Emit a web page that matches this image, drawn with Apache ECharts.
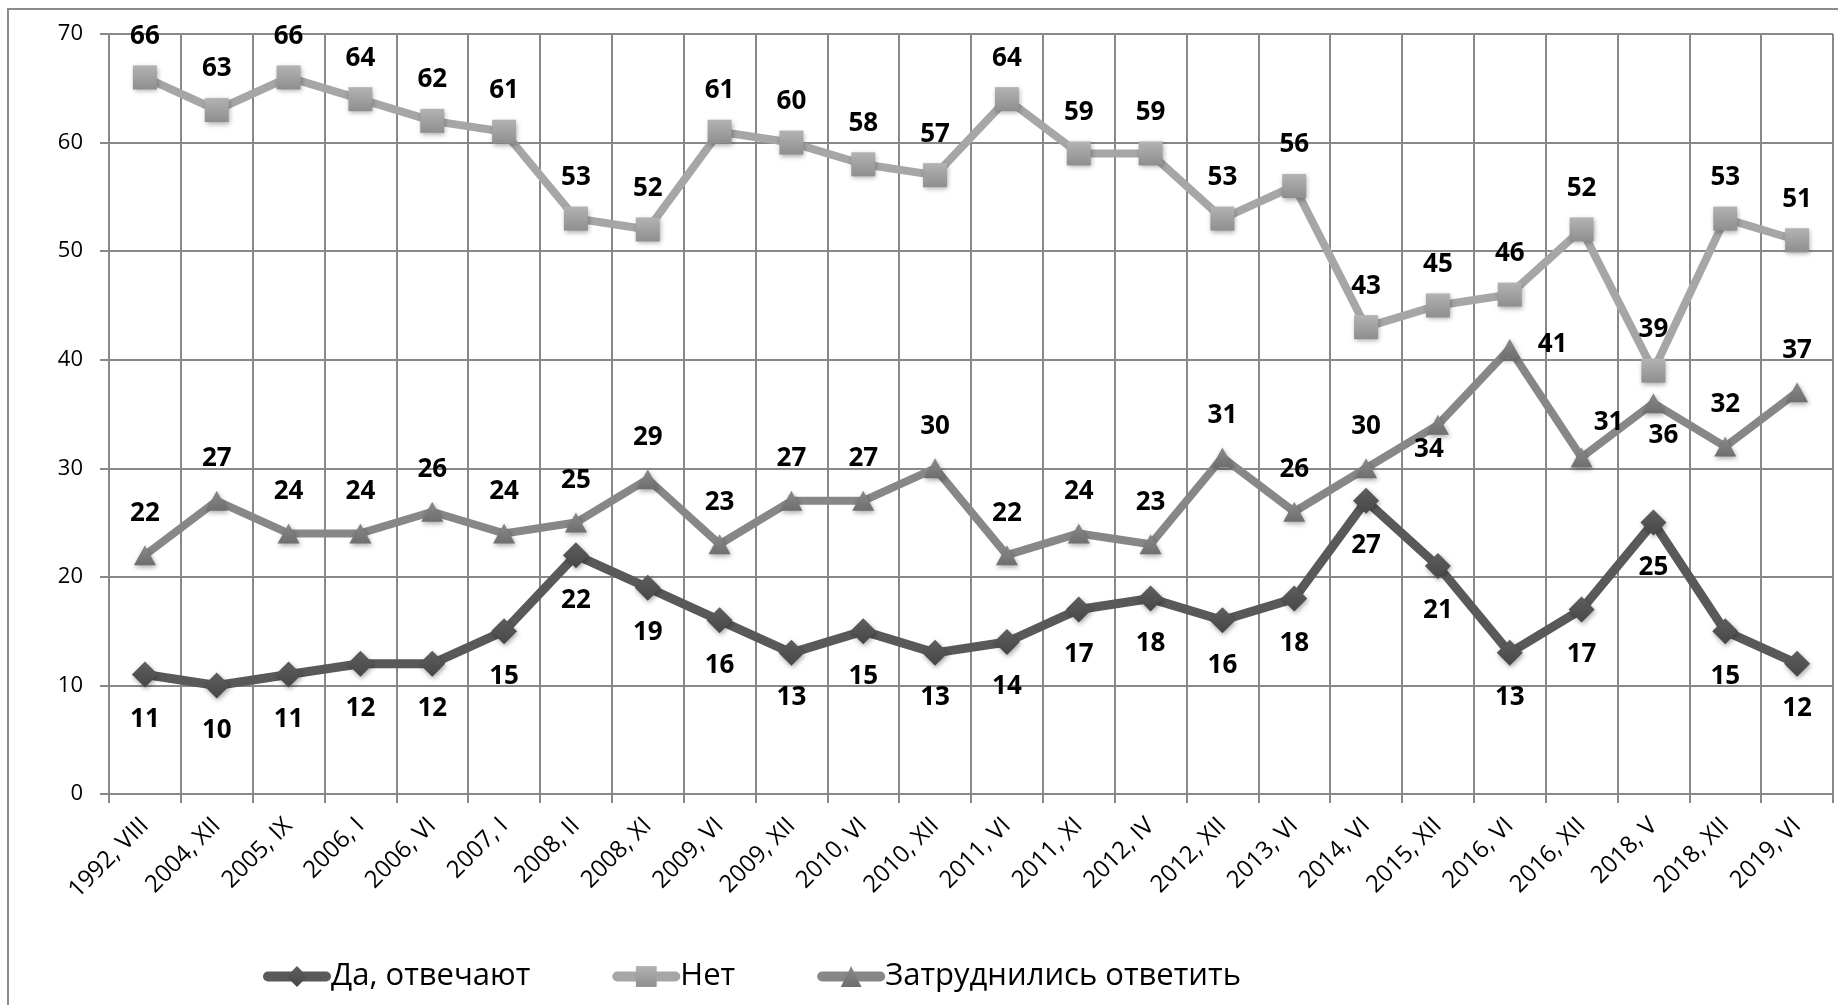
<!DOCTYPE html>
<html>
<head>
<meta charset="utf-8">
<script src="https://cdn.jsdelivr.net/npm/echarts@6/dist/echarts.min.js"></script>
<style>
  html, body { margin: 0; padding: 0; background: #ffffff; }
  #chart { width: 1838px; height: 1005px; }
</style>
</head>
<body>
<div id="chart"></div>
<script>
// survey waves
const categories = [
  '1992, VIII', '2004, XII', '2005, IX', '2006, I', '2006, VI', '2007, I',
  '2008, II', '2008, XI', '2009, VI', '2009, XII', '2010, VI', '2010, XII',
  '2011, VI', '2011, XI', '2012, IV', '2012, XII', '2013, VI', '2014, VI',
  '2015, XII', '2016, VI', '2016, XII', '2018, V', '2018, XII', '2019, VI'
]

const seriesNames = ['Да, отвечают', 'Нет', 'Затруднились ответить']

const yesValues = [11, 10, 11, 12, 12, 15, 22, 19, 16, 13, 15, 13, 14, 17, 18, 16, 18, 27, 21, 13, 17, 25, 15, 12]
const noValues = [66, 63, 66, 64, 62, 61, 53, 52, 61, 60, 58, 57, 64, 59, 59, 53, 56, 43, 45, 46, 52, 39, 53, 51]
const hardValues = [22, 27, 24, 24, 26, 24, 25, 29, 23, 27, 27, 30, 22, 24, 23, 31, 26, 30, 34, 41, 31, 36, 32, 37]

const yMin = 0
const yMax = 70
const yStep = 10

const chart = echarts.init(document.getElementById('chart'))

const labelFont = { fontFamily: 'Open Sans', fontWeight: 'bold', fontSize: 26, color: '#000' }

const grad = (top, bottom) => new echarts.graphic.LinearGradient(0, 0, 0, 1, [
  { offset: 0, color: top },
  { offset: 1, color: bottom },
])

// a few labels in the "hard to say" line were moved by hand in the original
const hardLabelTweaks = {
  18: { position: 'bottom', distance: 2, offset: [-9, 0] },
  19: { position: 'right', distance: 17, offset: [0, -4] },
  20: { position: 'top', distance: 12, offset: [27, 0] },
  21: { position: 'bottom', distance: 9, offset: [10, 0] },
}

const hardData = hardValues.map((v, i) => hardLabelTweaks[i] ? { value: v, label: hardLabelTweaks[i] } : v)

const markerShadow = { shadowBlur: 5, shadowColor: 'rgba(0,0,0,0.35)', shadowOffsetX: 1, shadowOffsetY: 2 }

const option = {
  animation: false,
  backgroundColor: '#ffffff',
  graphic: [{
    type: 'rect',
    silent: true,
    z: -10,
    shape: { x: 8, y: 9, width: 1900, height: 1100 },
    style: { fill: 'none', stroke: '#8c8c8c', lineWidth: 2 },
  }],
  grid: { left: 109, right: 5, top: 34, bottom: 211, containLabel: false },
  legend: {
    left: 258,
    top: 956,
    itemWidth: 58,
    itemHeight: 26,
    itemGap: 82,
    lineStyle: { width: 10, cap: 'round' },
    textStyle: { fontFamily: 'Open Sans', fontSize: 31, color: '#000' },
    data: seriesNames,
  },
  xAxis: {
    type: 'category',
    data: categories,
    boundaryGap: true,
    axisLine: { lineStyle: { color: '#888888', width: 2 } },
    axisTick: { show: true, length: 9, lineStyle: { color: '#888888', width: 2 } },
    splitLine: { show: true, lineStyle: { color: '#888888', width: 2 } },
    axisLabel: {
      rotate: 45,
      interval: 0,
      margin: 28,
      fontFamily: 'Open Sans',
      fontSize: 24,
      color: '#000',
    },
  },
  yAxis: {
    type: 'value',
    min: yMin,
    max: yMax,
    interval: yStep,
    axisLine: { show: true, lineStyle: { color: '#888888', width: 2 } },
    axisTick: { show: true, length: 9, lineStyle: { color: '#888888', width: 2 } },
    splitLine: { show: true, lineStyle: { color: '#888888', width: 2 } },
    axisLabel: { margin: 26, fontFamily: 'Open Sans', fontSize: 22, color: '#000' },
  },
  series: [
    {
      name: seriesNames[0],
      type: 'line',
      data: yesValues,
      z: 4,
      symbol: 'diamond',
      symbolSize: [26, 26],
      lineStyle: { color: '#595959', width: 9 },
      itemStyle: { color: grad('#5e5e5e', '#474747'), ...markerShadow },
      label: { show: true, position: 'bottom', distance: 19, ...labelFont },
    },
    {
      name: seriesNames[1],
      type: 'line',
      data: noValues,
      z: 3,
      symbol: 'rect',
      symbolSize: [24, 24],
      lineStyle: { color: '#a6a6a6', width: 8 },
      itemStyle: { color: grad('#b3b3b3', '#8e8e8e'), ...markerShadow },
      label: { show: true, position: 'top', distance: 16, ...labelFont },
    },
    {
      name: seriesNames[2],
      type: 'line',
      data: hardData,
      z: 2,
      symbol: 'triangle',
      symbolSize: [22, 20],
      lineStyle: { color: '#878787', width: 8 },
      itemStyle: { color: grad('#8a8a8a', '#6e6e6e'), ...markerShadow },
      label: { show: true, position: 'top', distance: 19, ...labelFont },
    },
  ],
}

chart.setOption(option)
</script>
</body>
</html>
